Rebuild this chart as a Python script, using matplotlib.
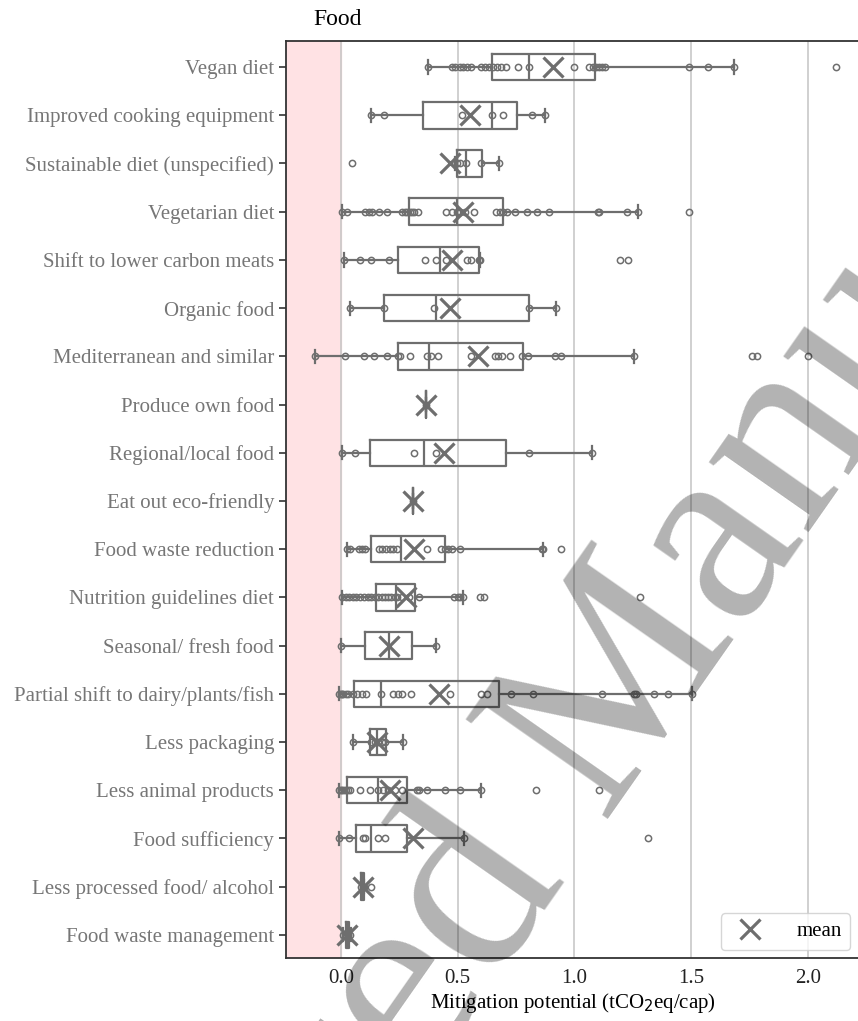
import matplotlib
matplotlib.use("Agg")
import matplotlib.pyplot as plt
from matplotlib.lines import Line2D

plt.rcParams["font.family"] = ["Liberation Serif", "DejaVu Serif"]

# categories, top to bottom
categories = [
    "Vegan diet", "Improved cooking equipment", "Sustainable diet (unspecified)",
    "Vegetarian diet", "Shift to lower carbon meats", "Organic food",
    "Mediterranean and similar", "Produce own food", "Regional/local food",
    "Eat out eco-friendly", "Food waste reduction", "Nutrition guidelines diet",
    "Seasonal/ fresh food", "Partial shift to dairy/plants/fish", "Less packaging",
    "Less animal products", "Food sufficiency", "Less processed food/ alcohol",
    "Food waste management",
]

# box statistics (tCO2eq/cap)
q1 = [0.647, 0.351, 0.499, 0.291, 0.244, 0.186, 0.244, 0.363, 0.123, 0.308,
      0.131, 0.151, 0.102, 0.057, 0.123, 0.028, 0.065, 0.088, 0.020]
med = [0.804, 0.647, 0.537, 0.496, 0.425, 0.406, 0.378, 0.363, 0.356, 0.308,
       0.256, 0.236, 0.205, 0.170, 0.154, 0.159, 0.131, 0.093, 0.027]
q3 = [1.090, 0.755, 0.603, 0.694, 0.592, 0.807, 0.781, 0.363, 0.705, 0.308,
      0.445, 0.316, 0.304, 0.678, 0.194, 0.283, 0.283, 0.098, 0.035]
whislo = [0.371, 0.127, 0.490, 0.005, 0.013, 0.039, -0.110, 0.363, 0.005, 0.308,
          0.025, 0.005, 0.000, -0.006, 0.052, -0.006, -0.006, 0.085, 0.010]
whishi = [1.684, 0.873, 0.678, 1.271, 0.595, 0.921, 1.256, 0.363, 1.075, 0.308,
          0.867, 0.524, 0.406, 1.503, 0.268, 0.600, 0.527, 0.100, 0.045]
means = [0.909, 0.551, 0.466, 0.524, 0.477, 0.469, 0.587, 0.363, 0.442, 0.308,
         0.312, 0.280, 0.205, 0.422, 0.154, 0.209, 0.308, 0.093, 0.027]

# individual study values
points = [
    [0.371, 0.474, 0.489, 0.508, 0.524, 0.54, 0.556, 0.60, 0.618, 0.634, 0.65, 0.669,
     0.686, 0.705, 0.757, 0.804, 1.0, 1.064, 1.08, 1.094, 1.106, 1.119, 1.13, 1.49,
     1.57, 1.684, 2.12],
    [0.127, 0.183, 0.519, 0.647, 0.692, 0.817, 0.873],
    [0.049, 0.499, 0.508, 0.537, 0.60, 0.678],
    [0.005, 0.028, 0.104, 0.12, 0.135, 0.162, 0.198, 0.261, 0.275, 0.285, 0.295,
     0.305, 0.315, 0.33, 0.449, 0.475, 0.496, 0.51, 0.53, 0.571, 0.666, 0.68, 0.694,
     0.71, 0.744, 0.795, 0.839, 0.891, 1.1, 1.106, 1.227, 1.271, 1.492],
    [0.013, 0.08, 0.127, 0.206, 0.359, 0.406, 0.448, 0.54, 0.559, 0.59, 0.595,
     1.197, 1.229],
    [0.039, 0.186, 0.398, 0.807, 0.921],
    [-0.11, 0.017, 0.099, 0.143, 0.198, 0.244, 0.255, 0.296, 0.367, 0.386, 0.417,
     0.555, 0.658, 0.673, 0.689, 0.725, 0.776, 0.8, 0.917, 0.941, 1.256, 1.759,
     1.783, 2.0],
    [0.363],
    [0.005, 0.06, 0.312, 0.406, 0.804, 1.075],
    [0.308],
    [0.025, 0.04, 0.076, 0.09, 0.105, 0.162, 0.178, 0.193, 0.21, 0.225, 0.241,
     0.367, 0.43, 0.445, 0.46, 0.476, 0.508, 0.859, 0.867, 0.941],
    [0.005, 0.02, 0.035, 0.05, 0.065, 0.08, 0.1, 0.115, 0.13, 0.145, 0.16, 0.175,
     0.19, 0.2, 0.215, 0.23, 0.24, 0.26, 0.29, 0.335, 0.485, 0.5, 0.508, 0.524,
     0.595, 0.614, 1.279],
    [0.0, 0.406],
    [-0.006, 0.0, 0.005, 0.01, 0.02, 0.03, 0.05, 0.07, 0.09, 0.107, 0.17, 0.225,
     0.243, 0.261, 0.299, 0.469, 0.6, 0.626, 0.729, 0.823, 1.117, 1.256, 1.265,
     1.342, 1.4, 1.503],
    [0.052, 0.13, 0.145, 0.16, 0.175, 0.19, 0.268],
    [-0.006, 0.0, 0.005, 0.012, 0.02, 0.03, 0.04, 0.08, 0.125, 0.159, 0.18, 0.2,
     0.23, 0.26, 0.327, 0.335, 0.367, 0.445, 0.508, 0.6, 0.834, 1.103],
    [-0.006, 0.036, 0.096, 0.105, 0.159, 0.19, 0.527, 1.314],
    [0.085, 0.093, 0.1, 0.131],
    [0.01, 0.02, 0.03, 0.04],
]

grey = "#6e6e6e"

fig = plt.figure(figsize=(8.58, 10.21), dpi=100)
ax = fig.add_axes([0.3333, 0.0617, 0.6684, 0.8981])

# negative region shading
ax.axvspan(-0.3, 0, color="#ffe2e4", zorder=0)

stats = []
for i, name in enumerate(categories):
    stats.append(dict(label=name, q1=q1[i], med=med[i], q3=q3[i],
                      whislo=whislo[i], whishi=whishi[i], mean=means[i], fliers=[]))

pos = list(range(len(categories)))
ax.bxp(stats, positions=pos, vert=False, widths=0.55, showmeans=True,
       showfliers=False, patch_artist=False,
       boxprops=dict(color=grey, linewidth=1.6),
       whiskerprops=dict(color=grey, linewidth=1.6),
       capprops=dict(color=grey, linewidth=1.6),
       medianprops=dict(color=grey, linewidth=1.6),
       meanprops=dict(marker="x", markeredgecolor=grey, markersize=14,
                      markeredgewidth=2.3, linestyle="none"),
       zorder=3)

for i, vals in enumerate(points):
    ax.plot(vals, [i] * len(vals), "o", markerfacecolor="none", markeredgecolor=grey,
            markersize=4.5, markeredgewidth=1.1, linestyle="none", zorder=4)

ax.set_xlim(-0.235, 2.22)
ax.set_ylim(18.48, -0.54)
ax.set_yticks(pos)
ax.set_yticklabels(categories, fontsize=15, color="#767676")
ax.set_xticks([0.0, 0.5, 1.0, 1.5, 2.0])
ax.set_xticklabels(["0.0", "0.5", "1.0", "1.5", "2.0"], fontsize=15, color="#222222")
ax.tick_params(axis="y", length=5, width=1.2, color="#333333")
ax.tick_params(axis="x", length=0, pad=8)
ax.xaxis.grid(True, color="#c4c4c4", linewidth=1.1, zorder=1)
ax.set_axisbelow(True)
for sp in ax.spines.values():
    sp.set_color("#333333")
    sp.set_linewidth(1.3)

ax.set_xlabel("Mitigation potential (tCO$_2$eq/cap)", fontsize=15, labelpad=2)
ax.text(0.047, 1.012, "Food", transform=ax.transAxes, fontsize=17, ha="left", va="bottom")

mean_handle = Line2D([], [], marker="x", color=grey, markersize=14, markeredgewidth=2.3,
                     linestyle="none")
ax.legend([mean_handle], ["mean"], loc="lower right", fontsize=15, frameon=True,
          borderaxespad=0.4, handletextpad=1.2, bbox_to_anchor=(0.998, 0.0))

# manuscript watermark
fig.text(0.690, 0.284, "Accepted Manuscript", fontsize=190, color="black", alpha=0.3,
         rotation=55, rotation_mode="anchor", ha="center", va="center", zorder=10)

fig.savefig("out.png", dpi=100)
